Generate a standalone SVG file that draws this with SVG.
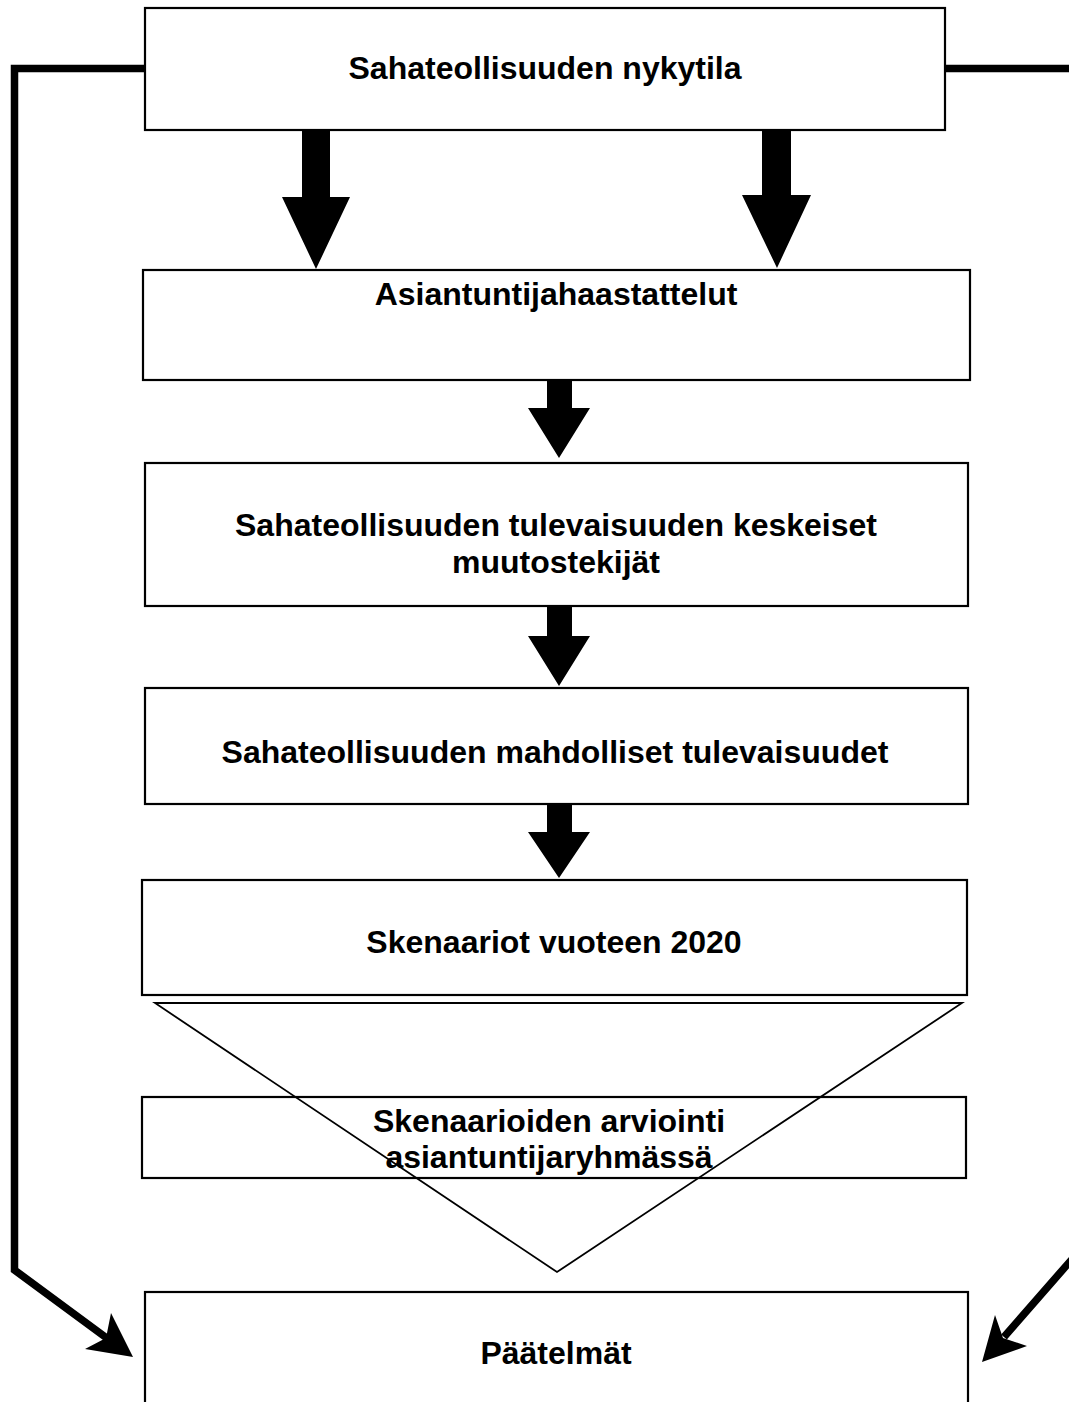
<svg xmlns="http://www.w3.org/2000/svg" width="1069" height="1402" viewBox="0 0 1069 1402">
<style>
.box{fill:#fff;stroke:#000;stroke-width:2.2}
.t{font-family:"Liberation Sans",Arial,Helvetica,sans-serif;font-weight:bold;font-size:32px;fill:#000;text-anchor:middle}
.conn{fill:none;stroke:#000;stroke-width:7.5;stroke-linejoin:miter}
.ah{fill:#000;stroke:none}
.tri{fill:none;stroke:#000;stroke-width:1.8}
</style>
<rect width="1069" height="1402" fill="#fff"/>
<g id="connectors">
<path class="conn" d="M145,68.5 H14.5 V1270 L108,1339"/>
<polygon class="ah" points="133,1357 111,1313 106,1338 85,1349"/>
<path class="conn" d="M945,68.5 H1080 V1250 L1004,1337"/>
<polygon class="ah" points="982,1362 995,1315 1003,1338 1027,1346"/>
<polygon class="ah" points="302,129 330,129 330,197 350,197 316,269 282,197 302,197"/>
<polygon class="ah" points="762,129 791,129 791,195 811,195 777,268 742,195 762,195"/>
<polygon class="ah" points="547,379 572,379 572,408 590,408 559,458 528,408 547,408"/>
<polygon class="ah" points="547,605 572,605 572,636 590,636 559,686 528,636 547,636"/>
<polygon class="ah" points="547,803 572,803 572,832 590,832 559,878 528,832 547,832"/>
</g>
<g id="n1"><rect class="box" x="145" y="8" width="800" height="122"/><text class="t" x="545" y="79">Sahateollisuuden nykytila</text></g>
<g id="n2"><rect class="box" x="143" y="270" width="827" height="110"/><text class="t" x="556" y="305">Asiantuntijahaastattelut</text></g>
<g id="n3"><rect class="box" x="145" y="463" width="823" height="143"/><text class="t" x="556" y="536">Sahateollisuuden tulevaisuuden keskeiset</text><text class="t" x="556" y="573">muutostekijät</text></g>
<g id="n4"><rect class="box" x="145" y="688" width="823" height="116"/><text class="t" x="555" y="763">Sahateollisuuden mahdolliset tulevaisuudet</text></g>
<g id="n5"><rect class="box" x="142" y="880" width="825" height="115"/><text class="t" x="554" y="953">Skenaariot vuoteen 2020</text></g>
<g id="n6"><rect class="box" x="142" y="1097" width="824" height="81"/><text class="t" x="549" y="1132">Skenaarioiden arviointi</text><text class="t" x="549" y="1168">asiantuntijaryhmässä</text></g>
<g id="n7"><rect class="box" x="145" y="1292" width="823" height="130"/><text class="t" x="556" y="1364">Päätelmät</text></g>
<g id="funnel"><polygon class="tri" points="155,1003 962,1003 557,1272"/></g>
</svg>
